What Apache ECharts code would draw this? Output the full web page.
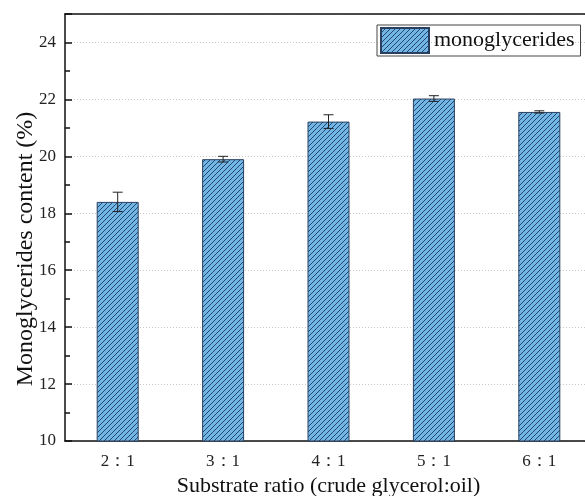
<!DOCTYPE html>
<html><head><meta charset="utf-8">
<script src="https://cdn.jsdelivr.net/npm/echarts@6/dist/echarts.min.js"></script>
<style>html,body{margin:0;padding:0;background:#fff}#c{width:585px;height:496px}</style>
</head><body><div id="c"></div>
<script>
var categories = ['2：1', '3：1', '4：1', '5：1', '6：1'];
var values = [18.40, 19.90, 21.22, 22.03, 21.56];
var errors = [0.34, 0.10, 0.24, 0.10, 0.04];
var seriesName = 'monoglycerides';
var xTitle = 'Substrate ratio (crude glycerol:oil)';
var yTitle = 'Monoglycerides content (%)';

function makePattern() {
  var c = document.createElement('canvas');
  c.width = 5; c.height = 5;
  var ctx = c.getContext('2d');
  ctx.fillStyle = '#72b6e6';
  ctx.fillRect(0, 0, 5, 5);
  ctx.strokeStyle = '#23466f';
  ctx.lineWidth = 1;
  ctx.beginPath();
  for (var k = -5; k <= 10; k += 5) {
    ctx.moveTo(k - 1, 6);
    ctx.lineTo(k + 6, -1);
  }
  ctx.stroke();
  return { image: c, repeat: 'repeat' };
}
var pat = makePattern();
var font = '"Liberation Serif","Times New Roman",serif';

var chart = echarts.init(document.getElementById('c'), null, { renderer: 'canvas' });
chart.setOption({
  animation: false,
  backgroundColor: '#fff',
  grid: { left: 65, top: 14, width: 527, height: 427, outerBoundsMode: 'none', containLabel: false },
  legend: {
    data: [{ name: seriesName, icon: 'rect' }],
    left: 377, top: 25,
    padding: [2, 6, 2, 3],
    borderColor: '#444', borderWidth: 1, borderRadius: 0,
    itemWidth: 48, itemHeight: 25, itemGap: 4,
    textStyle: { fontFamily: font, fontSize: 22, color: '#111' }
  },
  graphic: [{
    type: 'text', x: 26, y: 249, rotation: Math.PI / 2,
    style: { text: yTitle, font: '24px ' + font, fill: '#111', align: 'center', verticalAlign: 'middle' }
  }],
  xAxis: [
    {
      type: 'category', data: categories, position: 'bottom',
      axisLine: { lineStyle: { color: '#111', width: 1.5 } },
      axisTick: { inside: true, length: 5, lineStyle: { color: '#111', width: 1.5 } },
      axisLabel: { fontFamily: font, fontSize: 17, color: '#222', margin: 12 },
      name: xTitle, nameLocation: 'middle', nameGap: 27,
      nameTextStyle: { fontFamily: font, fontSize: 22, color: '#111' },
      splitLine: { show: false }
    },
    {
      type: 'category', data: categories, position: 'top',
      axisLine: { lineStyle: { color: '#111', width: 1.5 } },
      axisTick: { inside: true, length: 8, alignWithLabel: true, lineStyle: { color: '#111', width: 1.5 } },
      axisLabel: { show: false }, splitLine: { show: false }
    },
    {
      type: 'category', data: categories, position: 'top',
      axisLine: { show: false },
      axisTick: { inside: true, length: 5, lineStyle: { color: '#111', width: 1.5 } },
      axisLabel: { show: false }, splitLine: { show: false }
    }
  ],
  yAxis: [
    {
      type: 'value', min: 10, max: 25, interval: 2, position: 'left',
      axisLine: { show: true, lineStyle: { color: '#111', width: 1.5 } },
      axisTick: { show: true, inside: true, length: 7, lineStyle: { color: '#111', width: 1.5 } },
      minorTick: { show: true, splitNumber: 2, length: 5, lineStyle: { color: '#111', width: 1.5 } },
      axisLabel: { fontFamily: font, fontSize: 17, color: '#222', margin: 9, showMaxLabel: false,
        formatter: function (v) { return v === 25 ? '' : v; } },
      splitLine: { show: true, lineStyle: { color: '#c8c8c8', type: [1, 2], width: 1 } }
    },
    {
      type: 'value', min: 10, max: 25, interval: 2, position: 'right',
      axisLine: { show: true, lineStyle: { color: '#111', width: 1.5 } },
      axisTick: { show: true, inside: true, length: 7, lineStyle: { color: '#111', width: 1.5 } },
      axisLabel: { show: false }, splitLine: { show: false }
    }
  ],
  series: [
    {
      name: seriesName, type: 'bar', data: values, barWidth: 42,
      itemStyle: { color: pat, borderColor: '#2a3f5f', borderWidth: 1 }
    },
    {
      type: 'custom', name: 'err', silent: true, z: 5,
      data: values.map(function (v, i) { return [i, v - errors[i], v + errors[i]]; }),
      renderItem: function (params, api) {
        var lo = api.coord([api.value(0), api.value(1)]);
        var hi = api.coord([api.value(0), api.value(2)]);
        var x = lo[0], w = 5;
        var st = { stroke: '#222', lineWidth: 1 };
        return { type: 'group', children: [
          { type: 'line', shape: { x1: x, y1: lo[1], x2: x, y2: hi[1] }, style: st },
          { type: 'line', shape: { x1: x - w, y1: hi[1], x2: x + w, y2: hi[1] }, style: st },
          { type: 'line', shape: { x1: x - w, y1: lo[1], x2: x + w, y2: lo[1] }, style: st }
        ] };
      }
    }
  ]
});
</script></body></html>
